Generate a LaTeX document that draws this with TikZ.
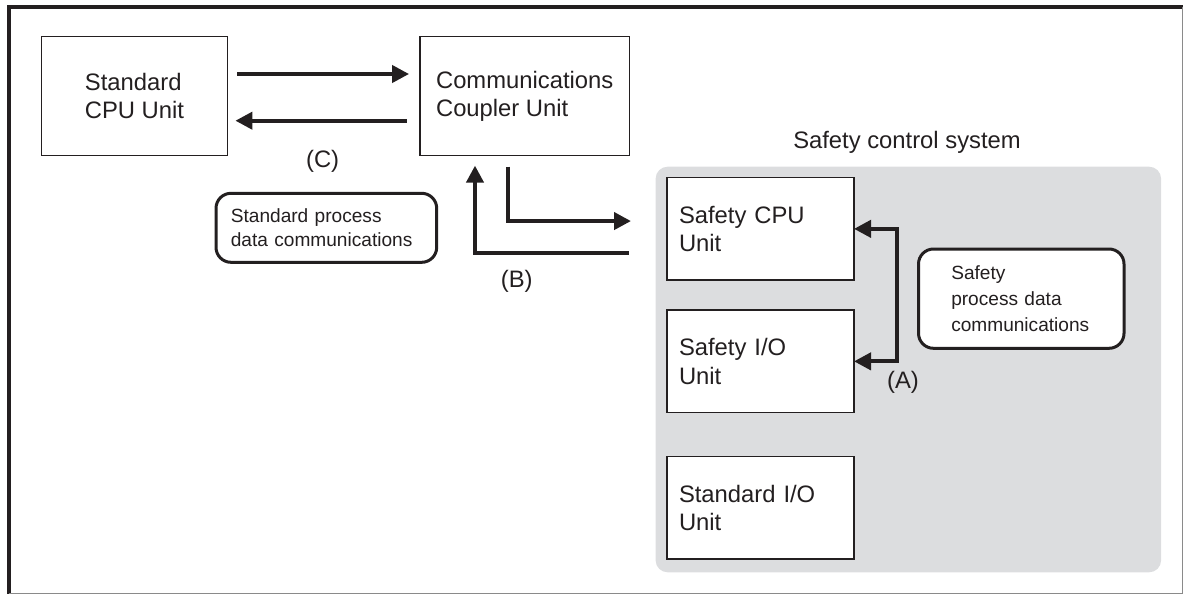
\documentclass[tikz,border=0pt]{standalone}
\usepackage{fontspec}
\setmainfont{Liberation Sans}
\usetikzlibrary{arrows.meta}
\definecolor{ink}{HTML}{231F20}
\definecolor{panel}{HTML}{DCDDDF}
\definecolor{framegray}{HTML}{8A8A8A}
\begin{document}
\begin{tikzpicture}[x=1pt,y=-1pt,
  unit/.style={draw=ink, line width=1.3pt, fill=white, text=ink, font=\fontsize{23.8}{28.5}\selectfont, align=left, inner sep=0pt, outer sep=0pt},
  safeunit/.style={unit, text width=163pt, inner xsep=12pt, minimum height=102.5pt},
  note/.style={draw=ink, line width=3pt, fill=white, rounded corners=15pt, text=ink, align=left, inner ysep=0pt, outer sep=0pt},
  lbl/.style={text=ink, font=\fontsize{23.8}{28.5}\selectfont, inner sep=0pt},
  arr/.style={draw=ink, line width=4pt, -{Triangle[length=17pt,width=17pt]}},
  dblarr/.style={draw=ink, line width=4pt, {Triangle[length=17pt,width=17pt]}-{Triangle[length=17pt,width=17pt]}},
]
\useasboundingbox (0,0) rectangle (1183,594);

% frame
\draw[ink, line width=4pt] (9.3,594) -- (9.3,7) -- (1183,7);
\draw[framegray, line width=1pt] (1182,7) -- (1182,593) -- (9.3,593);

% top units
\node[unit, minimum width=186.4pt, minimum height=119pt] (std) at (134.5,96.1) {Standard\\CPU Unit};
\node[unit, minimum width=209.3pt, minimum height=119pt] (coupler) at (524.7,96.1) {Communications\\Coupler Unit};

% safety control system panel
\node[fill=panel, rounded corners=12pt, minimum width=505.5pt, minimum height=405.6pt, inner sep=0pt] (scs) at (908.35,369.5) {};
\node[lbl] (scstitle) at (907,142.3) {Safety control system};

\node[safeunit] (scpu) at (760.5,228.85) {Safety CPU\\Unit};
\node[safeunit] (sio) at (760.5,361.35) {Safety I/O\\Unit};
\node[safeunit] (stdio) at (760.5,507.85) {Standard I/O\\Unit};

% notes
\node[note, text width=191pt, inner xsep=14.85pt, minimum height=69pt, font=\fontsize{19.1}{24}\selectfont] (spd) at (326.35,227.8) {Standard process\\data communications};
\node[note, text width=140pt, inner xsep=32.75pt, minimum height=99.3pt, font=\fontsize{19.1}{26}\selectfont] (sfpd) at (1021.25,298.65) {Safety\\process data\\communications};

% arrows (C)
\draw[arr] ([xshift=9.5pt,yshift=22.1pt]std.east) -- ([xshift=-11pt,yshift=22.1pt]coupler.west);
\draw[arr] ([xshift=-13.3pt,yshift=-24.6pt]coupler.west) -- ([xshift=7.7pt,yshift=-24.6pt]std.east);

% arrows (B)
\draw[arr] ([xshift=-17pt,yshift=-11.1pt]coupler.south) |- ([xshift=-36pt,yshift=7.8pt]scpu.west);
\draw[arr] ([xshift=-38.3pt,yshift=-24.5pt]scpu.west) -| ([xshift=-49.7pt,yshift=-10pt]coupler.south);

% arrows (A)
\draw[dblarr] (scpu.east) -- ++(43.3,0) |- (sio.east);

% labels
\node[lbl] (lc) at (322.6,161) {(C)};
\node[lbl] (lb) at (516.7,281) {(B)};
\node[lbl] (la) at (903,382.7) {(A)};
\end{tikzpicture}
\end{document}
